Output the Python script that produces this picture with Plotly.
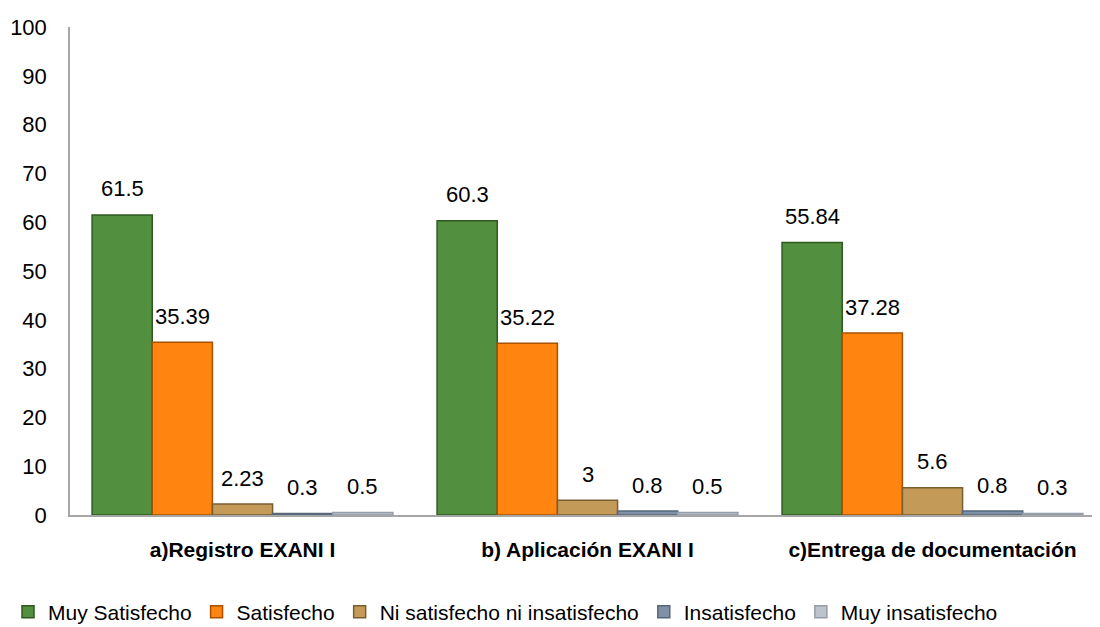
import plotly.graph_objects as go

categories = ["a)Registro EXANI I", "b) Aplicación EXANI I", "c)Entrega de documentación"]
series_names = ["Muy Satisfecho", "Satisfecho", "Ni satisfecho ni insatisfecho", "Insatisfecho", "Muy insatisfecho"]
muy_satisfecho = [61.5, 60.3, 55.84]
satisfecho = [35.39, 35.22, 37.28]
ni_ni = [2.23, 3, 5.6]
insatisfecho = [0.3, 0.8, 0.8]
muy_insatisfecho = [0.5, 0.5, 0.3]
y_ticks = list(range(0, 101, 10))

series_values = [muy_satisfecho, satisfecho, ni_ni, insatisfecho, muy_insatisfecho]
fill_colors = ["#52903F", "#FF8410", "#C49A58", "#7F91A6", "#BCC3CB"]
line_colors = ["#2E5A22", "#A85200", "#7A5E30", "#56677A", "#959DA6"]

FONT = "Liberation Sans, Arial, sans-serif"

# the page body has an 8px margin, so the figure is drawn 8px right/down
L, R, T, B = 62, 0, 19, 120
W, H = 1100, 627
BARGAP = 0.128
cat_px = 345.0  # pixel width of one category slot
n_series = len(series_names)
bar_px = cat_px * (1 - BARGAP) / n_series

fig = go.Figure()
for i, (name, vals, fc, lc) in enumerate(zip(series_names, series_values, fill_colors, line_colors)):
    fig.add_trace(go.Bar(
        x=categories, y=vals, name=name,
        marker=dict(color=fc, line=dict(color=lc, width=1.5)),
        cliponaxis=False,
    ))
    for c, v in zip(categories, vals):
        fig.add_annotation(
            x=c, y=v, xref="x", yref="y", text=f"{v:g}", showarrow=False,
            xshift=(i - (n_series - 1) / 2) * bar_px, yshift=26,
            font=dict(size=22, color="black", family=FONT),
        )

span = (W - L - R) / cat_px
fig.update_layout(
    width=W, height=H,
    margin=dict(l=L, r=R, t=T, b=B, autoexpand=False),
    paper_bgcolor="white", plot_bgcolor="white",
    barmode="group", bargap=BARGAP, bargroupgap=0,
    font=dict(family=FONT, size=21, color="black"),
    showlegend=True,
    legend=dict(orientation="h", x=0.0, xanchor="left", xref="container",
                y=23 / H, yanchor="middle", yref="container",
                font=dict(size=21, family=FONT), itemwidth=30,
                traceorder="normal"),
)
fig.update_xaxes(
    range=[-0.5, -0.5 + span], automargin=False,
    showline=True, linecolor="#A6A6A6", linewidth=1.5,
    ticks="outside", ticklen=15, tickcolor="rgba(0,0,0,0)",
    tickfont=dict(size=21, family=FONT, color="black", weight="bold"),
    showgrid=False,
)
fig.update_yaxes(
    range=[0, 100], tickvals=y_ticks, showgrid=False, zeroline=False, automargin=False,
    showline=True, linecolor="#A6A6A6", linewidth=1.5,
    ticks="outside", ticklen=17, tickcolor="rgba(0,0,0,0)",
    tickfont=dict(size=22, family=FONT, color="black"),
)

fig.write_html("out.html")
